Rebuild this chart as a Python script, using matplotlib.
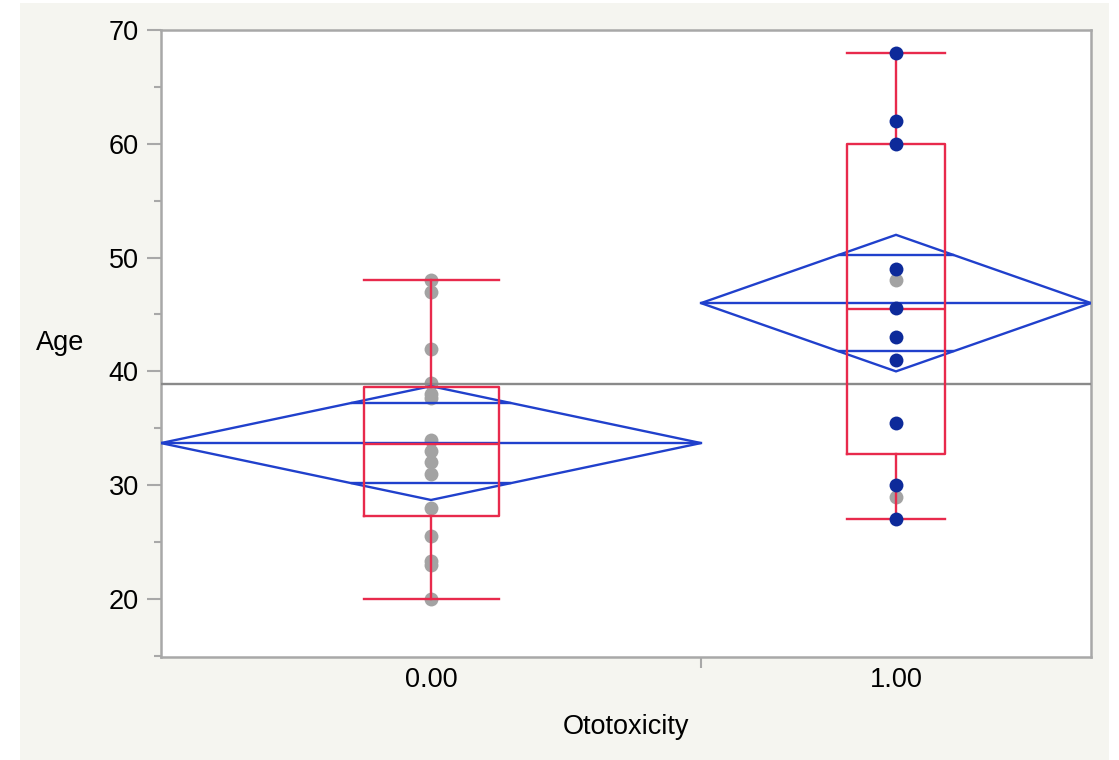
import numpy as np
import matplotlib
matplotlib.use('Agg')
import matplotlib.pyplot as plt
from matplotlib.patches import Polygon, Rectangle

plt.rcParams['font.family'] = ['Liberation Sans', 'DejaVu Sans']

# group info
groups = ['0.00', '1.00']
group_n = [18, 13]          # sets the width of each group on the x axis

# ages
ages_grey = [[48, 47, 42, 39, 38, 37.7, 34, 33, 32, 31, 28, 25.5, 23.3, 23, 20],
             [48, 29]]
ages_navy = [[],
             [68, 62, 60, 49, 45.6, 43, 41, 35.5, 30, 27]]

# means diamonds
means = [33.7, 46.0]
ci_half = [5.0, 6.0]
grand_mean = 38.9

# box plots
q1 = [27.3, 32.7]
medians = [33.6, 45.5]
q3 = [38.6, 60.0]
whis_lo = [20, 27]
whis_hi = [48, 68]

grey = '#a3a3a3'
navy = '#0d2a9a'
red = '#e82a4c'
blue = '#2040cc'
frame = '#a8a8a8'

fig = plt.figure(figsize=(11.19, 7.60), dpi=100)
fig.patch.set_facecolor('white')
bg = Rectangle((20 / 1119, 0), 1089 / 1119, 757 / 760,
               transform=fig.transFigure, facecolor='#f5f5f0',
               edgecolor='none', zorder=-10)
fig.add_artist(bg)

ax = fig.add_axes([161 / 1119, 103 / 760, 930 / 1119, 627 / 760])
ax.set_facecolor('white')

edges = np.concatenate([[0], np.cumsum(group_n)])
centers = (edges[:-1] + edges[1:]) / 2
halfw = np.array(group_n) / 2

# points (grey below the lines, navy on top)
for i in range(len(groups)):
    ax.plot([centers[i]] * len(ages_grey[i]), ages_grey[i], 'o', color=grey,
            markersize=10, markeredgewidth=0, zorder=2)
    if ages_navy[i]:
        ax.plot([centers[i]] * len(ages_navy[i]), ages_navy[i], 'o', color=navy,
                markersize=10, markeredgewidth=0, zorder=5)

# grand mean
ax.axhline(grand_mean, color='#8a8a8a', lw=1.7, zorder=3)

# means diamonds with overlap marks
lw = 1.7
for i in range(len(groups)):
    c, m, h, w = centers[i], means[i], ci_half[i], halfw[i]
    ax.add_patch(Polygon([(c - w, m), (c, m + h), (c + w, m), (c, m - h)],
                         closed=True, fill=False, edgecolor=blue, lw=lw, zorder=4))
    ax.plot([c - w, c + w], [m, m], color=blue, lw=lw, zorder=4)
    k = 1 / np.sqrt(2)
    ow = (1 - k) * w
    for s in (1, -1):
        ax.plot([c - ow, c + ow], [m + s * h * k] * 2, color=blue, lw=lw, zorder=4)

# box plots
stats = []
for i in range(len(groups)):
    stats.append({'med': medians[i], 'q1': q1[i], 'q3': q3[i],
                  'whislo': whis_lo[i], 'whishi': whis_hi[i], 'fliers': []})
bw = [0.25 * n for n in group_n]
ax.bxp(stats, positions=centers, widths=bw, capwidths=bw, showfliers=False,
       boxprops=dict(color=red, lw=lw), whiskerprops=dict(color=red, lw=lw),
       capprops=dict(color=red, lw=lw), medianprops=dict(color=red, lw=lw),
       manage_ticks=False, zorder=4)

ax.set_xlim(edges[0], edges[-1])
ax.set_ylim(14.9, 70)

ax.set_yticks([20, 30, 40, 50, 60, 70])
ax.set_yticks(np.arange(15, 70, 10), minor=True)
ax.tick_params(axis='y', which='major', length=10, width=1.5, color=frame,
               labelsize=19.5, pad=6)
ax.tick_params(axis='y', which='minor', length=5, width=1.5, color=frame)

ax.set_xticks(centers)
ax.set_xticklabels(groups)
ax.set_xticks(edges[1:-1], minor=True)
ax.tick_params(axis='x', which='major', length=0, labelsize=19.5, pad=7)
ax.tick_params(axis='x', which='minor', length=8, width=1.5, color=frame)

for sp in ax.spines.values():
    sp.set_color(frame)
    sp.set_linewidth(1.8)

ax.set_ylabel('Age', rotation=0, fontsize=19.5, ha='center', va='center')
ax.yaxis.set_label_coords(-0.1086, 0.5)
ax.set_xlabel('Ototoxicity', fontsize=19.5, ha='center', va='center')
ax.xaxis.set_label_coords(0.5, -0.1116)

plt.savefig('out.png', dpi=100, facecolor=fig.get_facecolor())
